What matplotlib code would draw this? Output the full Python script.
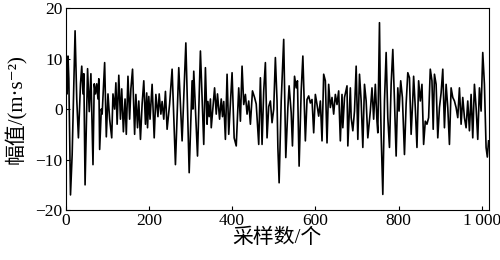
import matplotlib
matplotlib.use("Agg")
import matplotlib.pyplot as plt

plt.rcParams['font.family'] = ['Liberation Serif', 'Noto Sans CJK SC', 'DejaVu Sans']
plt.rcParams['axes.unicode_minus'] = True

# sample index / amplitude (peaks and troughs)
samples = [0, 2, 4, 6, 8, 12, 16, 23, 27, 31, 36, 39, 42, 44, 47, 53, 57, 61, 66, 69,
           72, 75, 78, 80, 82, 86, 88, 94, 98, 102, 106, 111, 114, 118, 121, 124, 128, 132, 135, 139,
           143, 146, 150, 154, 157, 161, 166, 169, 173, 176, 180, 184, 188, 192, 195, 197, 200, 203, 208, 213,
           217, 222, 225, 229, 232, 236, 240, 244, 250, 256, 264, 272, 280, 289, 297, 304, 306, 308, 317, 324,
           332, 336, 340, 342, 345, 348, 350, 358, 362, 365, 370, 374, 377, 380, 384, 388, 392, 400, 405, 410,
           416, 420, 424, 428, 432, 436, 440, 444, 449, 454, 458, 464, 468, 472, 476, 480, 484, 488, 492, 496,
           500, 504, 508, 510, 513, 518, 524, 529, 534, 537, 542, 545, 550, 554, 557, 561, 566, 570, 576, 580,
           584, 588, 592, 596, 600, 604, 608, 612, 616, 620, 624, 628, 632, 636, 640, 644, 648, 652, 656, 660,
           664, 666, 670, 676, 678, 684, 686, 690, 694, 698, 702, 706, 710, 714, 718, 722, 726, 732, 736, 740,
           744, 748, 750, 754, 756, 758, 762, 766, 770, 774, 778, 782, 786, 790, 794, 798, 801, 805, 809, 814,
           818, 822, 826, 830, 834, 836, 840, 844, 848, 852, 856, 860, 864, 868, 872, 876, 880, 883, 886, 890,
           894, 898, 902, 906, 910, 914, 918, 922, 926, 930, 934, 938, 942, 946, 950, 954, 958, 962, 966, 970,
           974, 978, 982, 986, 990, 994, 998, 1002, 1006, 1010, 1013, 1016]
amplitude = [0, 9, 3, 10.5, 6, -17, -9, 15.5, 2, -5.7, 5, 8.5, 3, 7, -15, 8, -0.5, 7, -11, 5,
             3, 5, 2, 6, -8, 0, -1, 9.2, -5.5, 3, -2, -5.7, 3, 0, 5.2, -3, 6.7, -2, 4, -4.5,
             2, -5, 6.5, -2, 4, 7.9, -5, 2.9, -3.7, 1.6, -6, 1, 5.6, -3, 3.2, -3.7, 2.5, -2, 4.9, -5.7,
             2.9, -1.5, 3, -1, 1.5, -2, 3.5, -4, 1, 7.9, -11, 8.2, -6.3, 13.1, -12.6, 5.6, 0, 7.5, -9.3, 11.5,
             -7, 8.2, -3, 1.5, -1.5, 2, -3.7, 4.2, -1, 3, -2, 2, -1.5, 1.5, -6, 6.9, -5, 7.2, -5.7, -7.3,
             4.2, -2.4, 8.5, 0.9, 2.9, -1, 1.6, -3, 3.6, 2.3, 1, -7, 6.2, -7, 3.6, 9.2, -5.7, 0.5, 1.6, -2.7,
             0, 10.2, 1.6, -7.6, -14.6, 1.6, 13.8, -9.6, 0.3, 4.6, -0.7, -7.3, 6.5, 4.2, 5.6, -11.3, 3.6, 10.5, -6.3, 1.9,
             2.6, 1.2, 1.9, -4.7, 2.9, 0.9, -1.4, 1.6, -6.3, 6.9, 5.6, -6.7, 4.9, 0.3, 2.3, -1, 2.9, 0.9, 3.6, -6.3,
             2.9, -3.7, 2.3, 4.6, -7.3, 4.2, -1.7, -4.3, -0.4, 8.5, -6, 6.9, 1.6, -7.6, 4.9, 1.6, -5.7, -0.4, 4.2, -2,
             4.9, -2.4, -4.7, 17.1, 2.9, -5, -16.9, 1.6, 11.2, -1.7, -7.6, 4.9, 11.8, 1.6, -9.3, 4.2, -0.4, 5.6, 2.3, -9,
             1, 7.2, 6.2, -5, 2, 6.5, 0.3, -7.6, 5.6, 1.6, 4.9, -7, -2.4, -3, -1.7, 7.9, 5.6, -4, 6.9, 4.9,
             -5.7, 0.3, 3.2, 7.9, -3.7, 4.9, 0.3, -7, 4.2, 2.3, 1.6, 0.3, -1.7, 4.2, -3, 2.3, -1.7, -3.7, 1.6, -4.3,
             2.9, -5.7, 4.9, 0.3, -6, 4.2, -0.4, 11.2, 4.9, -7.6, -9.5, -6.3]

xticks = [0, 200, 400, 600, 800, 1000]
xtick_labels = ['0', '200', '400', '600', '800', '1\u2009000']
yticks = [-20, -10, 0, 10, 20]

fig, ax = plt.subplots(figsize=(5, 2.6), dpi=100)
fig.subplots_adjust(left=0.131, right=0.978, top=0.969, bottom=0.192)

ax.plot(samples, amplitude, color='black', linewidth=1.2)

ax.set_xlim(0, 1017)
ax.set_ylim(-20, 20)
ax.set_xticks(xticks)
ax.set_xticklabels(xtick_labels)
ax.set_yticks(yticks)
ax.tick_params(direction='in', length=3, width=0.8, labelsize=12.5, pad=2,
               top=False, right=False)
for sp in ax.spines.values():
    sp.set_linewidth(0.8)

ax.set_xlabel('采样数/个', fontsize=15, labelpad=0)
ax.set_ylabel('幅值/(m·s⁻²)', fontsize=15, labelpad=6)

fig.savefig('out.png', dpi=100)
